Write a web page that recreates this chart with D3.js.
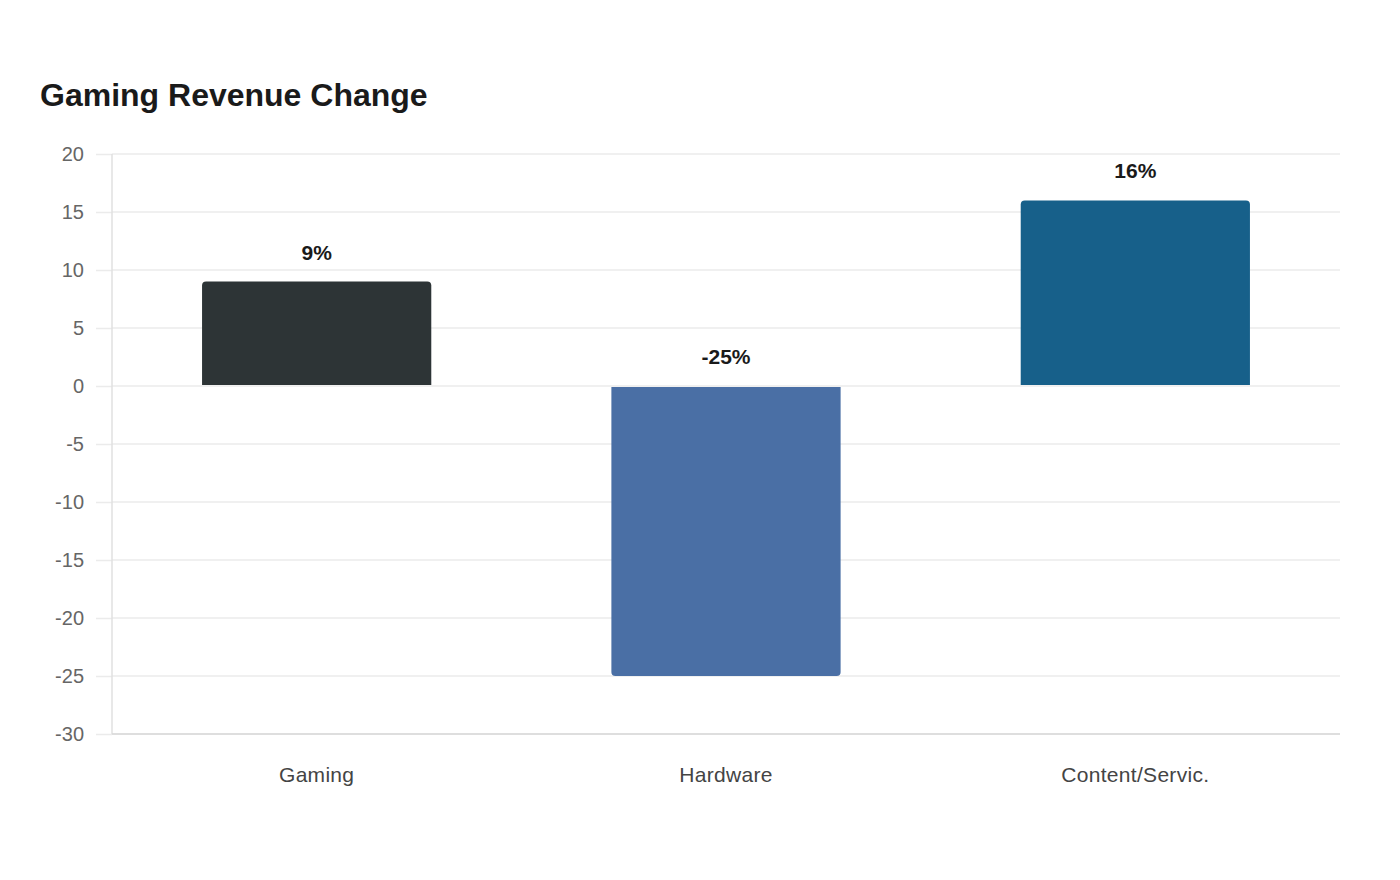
<!DOCTYPE html>
<html>
<head>
<meta charset="utf-8">
<script src="https://cdn.jsdelivr.net/npm/d3@7"></script>
<style>
  body { margin: 0; background: #fff; font-family: "Liberation Sans", Arial, sans-serif; }
</style>
</head>
<body>
<div id="chart"></div>
<script>
// data
const categories = ["Gaming", "Hardware", "Content/Servic."];
const changes = [9, -25, 16];
const barColors = ["#2d3436", "#4a6fa5", "#17608a"];
const yTicks = [20, 15, 10, 5, 0, -5, -10, -15, -20, -25, -30];

const width = 1400, height = 880;
const margin = { top: 154, right: 60, bottom: 146, left: 112 };

const svg = d3.select("#chart").append("svg")
    .attr("width", width)
    .attr("height", height);

// title
svg.append("text")
    .attr("x", 40)
    .attr("y", 106)
    .attr("font-size", 32)
    .attr("font-weight", "bold")
    .attr("fill", "#1a1a1a")
    .text("Gaming Revenue Change");

const x = d3.scaleBand()
    .domain(categories)
    .range([margin.left, width - margin.right])
    .paddingInner(0.44)
    .paddingOuter(0.22);

const y = d3.scaleLinear()
    .domain([-30, 20])
    .range([height - margin.bottom, margin.top]);

//gridlines + y ticks
const yAxis = svg.append("g")
    .attr("transform", "translate(" + margin.left + ",0)")
    .call(d3.axisLeft(y).tickValues(yTicks).tickFormat(d => String(d)).tickSize(16).tickPadding(12));
yAxis.select(".domain").remove();
yAxis.selectAll(".tick line").attr("stroke", "#ebebeb").attr("stroke-width", 1.5);
yAxis.selectAll(".tick text")
    .attr("font-size", 20)
    .attr("font-family", "Liberation Sans, Arial, sans-serif")
    .attr("fill", "#666");

svg.append("g")
    .selectAll("line")
    .data(yTicks)
    .join("line")
    .attr("x1", margin.left)
    .attr("x2", width - margin.right)
    .attr("y1", d => y(d))
    .attr("y2", d => y(d))
    .attr("stroke", "#ebebeb")
    .attr("stroke-width", 1.5);

// axis lines
svg.append("line")
    .attr("x1", margin.left).attr("x2", margin.left)
    .attr("y1", margin.top).attr("y2", y(-30))
    .attr("stroke", "#e0e0e0").attr("stroke-width", 1.5);
svg.append("line")
    .attr("x1", margin.left).attr("x2", width - margin.right)
    .attr("y1", y(-30)).attr("y2", y(-30))
    .attr("stroke", "#d9d9d9").attr("stroke-width", 1.5);

// x axis labels
const xAxis = svg.append("g")
    .attr("transform", "translate(0," + y(-30) + ")")
    .call(d3.axisBottom(x).tickSize(0).tickPadding(33));
xAxis.select(".domain").remove();
xAxis.selectAll(".tick text")
    .attr("font-size", 21)
    .attr("letter-spacing", 0.3)
    .attr("font-family", "Liberation Sans, Arial, sans-serif")
    .attr("fill", "#444");

// bar with rounded far end
function barPath(d, i) {
    const x0 = x(categories[i]), w = x.bandwidth(), r = 4;
    const z = d >= 0 ? y(0) - 1 : y(0) + 1;
    const e = y(d);
    const s = d >= 0 ? 1 : -1;
    return "M" + x0 + "," + z +
        "V" + (e + s * r) +
        "Q" + x0 + "," + e + " " + (x0 + r) + "," + e +
        "H" + (x0 + w - r) +
        "Q" + (x0 + w) + "," + e + " " + (x0 + w) + "," + (e + s * r) +
        "V" + z + "Z";
}

svg.append("g")
    .selectAll("path")
    .data(changes)
    .join("path")
    .attr("d", (d, i) => barPath(d, i))
    .attr("fill", (d, i) => barColors[i]);

// value labels
svg.append("g")
    .selectAll("text")
    .data(changes)
    .join("text")
    .attr("x", (d, i) => x(categories[i]) + x.bandwidth() / 2)
    .attr("y", d => (d >= 0 ? y(d) : y(0)) - 22)
    .attr("text-anchor", "middle")
    .attr("font-size", 21)
    .attr("font-weight", "bold")
    .attr("fill", "#1a1a1a")
    .text(d => d + "%");
</script>
</body>
</html>
